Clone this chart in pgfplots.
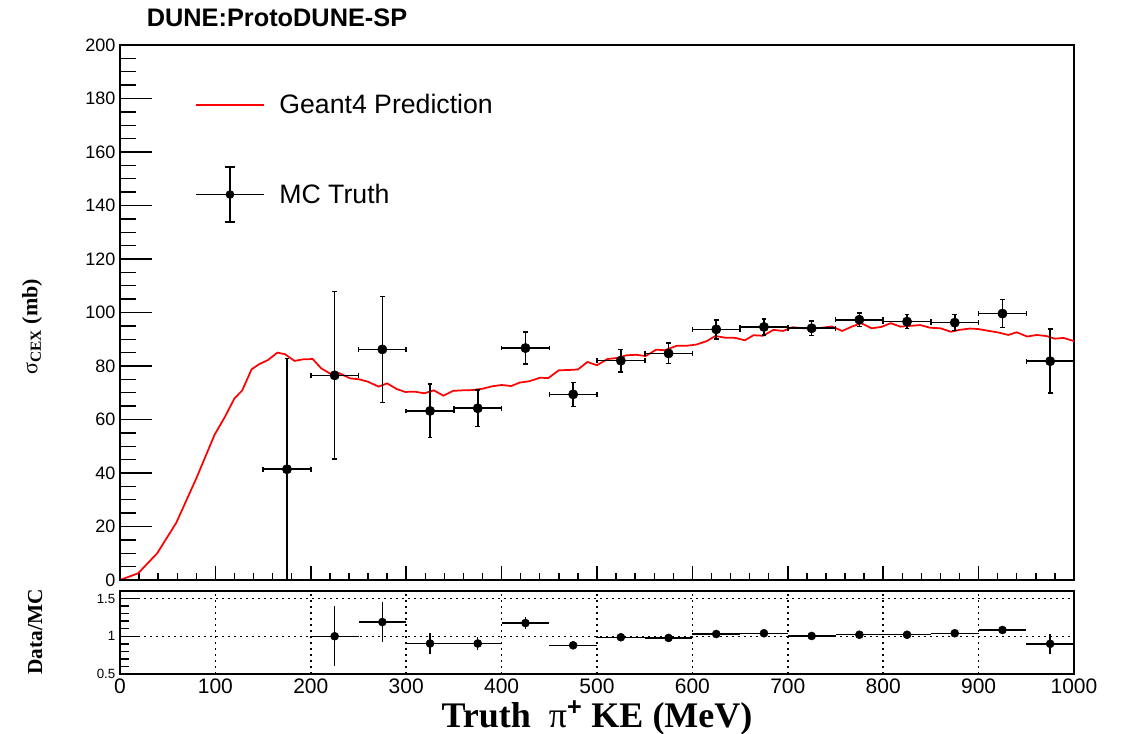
\documentclass[border=0pt]{standalone}
\usepackage{fontspec}
\setmainfont{Liberation Serif}
\newfontfamily\arial{Liberation Sans}
\usepackage{pgfplots}
\pgfplotsset{compat=1.18}
\pgfplotstableread{
x ey y
0 0 0
19 0 2.5
39 0 10
59 0 21.4
80 0 38
99 0 54.2
110 0 61
120 0 67.9
128 0 70.8
138 0 78.8
146 0 80.7
155 0 82.2
165 0 85
173 0 84.4
183 0 81.9
192 0 82.5
202 0 82.6
211 0 79.1
221 0 77
230 0 77.3
241 0 75.4
251 0 75
260 0 74.1
271 0 72.3
280 0 73.5
290 0 71.4
299 0 70.3
309 0 70.4
319 0 69.8
329 0 70.9
339 0 68.9
349 0 70.7
359 0 70.9
370 0 71
380 0 71.5
390 0 72.4
400 0 72.9
410 0 72.5
419 0 73.8
429 0 74.3
440 0 75.6
449 0 75.5
460 0 78.4
470 0 78.5
480 0 78.7
490 0 81.5
500 0 80.3
511 0 82.6
521 0 83
531 0 84
541 0 84.2
551 0 83.7
562 0 86.1
571 0 85.9
584 0 87.6
595 0 87.6
604 0 88
615 0 89.3
624 0 91.2
634 0 90.6
645 0 90.5
655 0 89.6
664 0 91.5
674 0 91.3
685 0 93.5
695 0 93.1
705 0 94.5
716 0 94.1
726 0 94
736 0 94.3
746 0 94.8
757 0 93.1
767 0 94.7
777 0 96
788 0 94.1
798 0 94.6
808 0 96
818 0 94.7
828 0 95
839 0 95.3
849 0 94.3
860 0 94.1
871 0 92.8
880 0 93.5
891 0 94
900 0 93.8
911 0 93.1
921 0 92.5
931 0 91.6
940 0 92.6
951 0 91
961 0 91.6
971 0 91.2
980 0 90.2
989 0 90.5
1000 0 89.3
}\geant
\pgfplotstableread{
x y ex ey
175 41.4 25 41.4
225 76.5 25 31.3
275 86.2 25 19.8
325 63.2 25 10.0
375 64.2 25 6.8
425 86.7 25 6.0
475 69.4 25 4.5
525 82.0 25 4.2
575 84.7 25 3.8
625 93.7 25 3.5
675 94.6 25 3.0
725 94.1 25 2.7
775 97.3 25 2.6
825 96.6 25 2.6
875 96.2 25 3.0
925 99.6 25 5.2
975 81.8 25 12.0
}\mctruth
\pgfplotstableread{
x y ex ey
225 1.000 25 0.40
275 1.188 25 0.27
325 0.904 25 0.14
375 0.904 25 0.09
425 1.175 25 0.075
475 0.880 25 0.03
525 0.987 25 0.02
575 0.978 25 0.02
625 1.030 25 0.02
675 1.040 25 0.02
725 1.004 25 0.02
775 1.020 25 0.02
825 1.020 25 0.02
875 1.040 25 0.02
925 1.083 25 0.03
975 0.900 25 0.13
}\ratio
\begin{document}
\begin{tikzpicture}[x=1pt,y=1pt]
\useasboundingbox (-90,-115.5) rectangle (751.5,435);
% ---------- top panel: frame, x ticks, data, legend
\begin{axis}[
  at={(0pt,0pt)}, anchor=south west,
  scale only axis, width=715.5pt, height=401.25pt,
  xmin=0, xmax=1000, ymin=0, ymax=200,
  axis line style={line width=1.5pt},
  xtick={0,100,...,1000}, minor x tick num=4, xticklabels=\empty,
  ytick=\empty,
  tick pos=left, tick align=inside,
  major tick length=10.5pt, minor tick length=5.25pt,
  every tick/.style={line width=1.1pt, black},
  title={DUNE:ProtoDUNE-SP},
  every axis title shift=0pt,
  title style={at={(axis description cs:0.1646,1.0505)}, anchor=center, yshift=0pt, font=\arial\bfseries\fontsize{19}{22}\selectfont},
  legend style={draw=none, fill=none, at={(axis description cs:0.0786,0.908)}, anchor=north west,
    font=\arial\fontsize{20}{24}\selectfont, row sep=38pt, column sep=11pt, inner sep=0pt,
    nodes={inner sep=0pt}},
  legend cell align=left,
]
\addplot[red, line width=1.3pt, mark=none,
  legend image code/.code={\draw[red, line width=1pt] (0pt,0pt) -- (51pt,0pt);}]
  table[x=x, y=y] {\geant};
\addlegendentry{Geant4 Prediction}
\addplot[black, only marks, mark=*, mark size=3.5pt,
  legend image code/.code={
    \draw[black, line width=1.1pt] (0pt,0pt) -- (51pt,0pt);
    \draw[black, line width=1.1pt] (25.5pt,-20.5pt) -- (25.5pt,20.5pt);
    \draw[black, line width=1.1pt] (21.75pt,-20.5pt) -- (29.25pt,-20.5pt);
    \draw[black, line width=1.1pt] (21.75pt,20.5pt) -- (29.25pt,20.5pt);
    \fill[black] (25.5pt,0pt) circle (3pt);},
  error bars/.cd, x dir=both, x explicit, y dir=both, y explicit,
  error bar style={line width=1.2pt, black},
  error mark options={rotate=90, mark size=1.8pt, line width=1.2pt, black}]
  table[x=x, y=y, x error=ex, y error=ey] {\mctruth};
\addlegendentry{MC Truth}
\end{axis}
% ---------- top panel: y ticks and labels
\begin{axis}[
  at={(0pt,0pt)}, anchor=south west,
  scale only axis, width=715.5pt, height=401.25pt,
  xmin=0, xmax=1000, ymin=0, ymax=200,
  axis line style={draw=none},
  xtick=\empty,
  ytick={0,20,...,200}, minor y tick num=3,
  tick pos=left, tick align=inside,
  major tick length=24pt, minor tick length=12pt,
  every tick/.style={line width=1.1pt, black},
  /pgf/number format/assume math mode=true,
  yticklabel style={font=\arial\fontsize{13.5}{16}\selectfont},
  ylabel={σ\textsubscript{\textbf{CEX}} \textbf{(mb)}},
  ylabel style={at={(axis description cs:-0.0922,0.473)}, anchor=center, rotate=0, font=\fontsize{16.5}{19}\selectfont},
]
\end{axis}
% ---------- ratio panel
\begin{axis}[
  at={(0pt,-8.25pt)}, anchor=north west,
  scale only axis, width=715.5pt, height=62.25pt,
  xmin=0, xmax=1000, ymin=0.5, ymax=1.6,
  axis line style={line width=1.5pt},
  xtick={0,100,...,1000}, ytick={0.5,1,1.5}, minor y tick num=4,
  tick pos=left, tick align=inside,
  major tick length=14pt, minor tick length=7pt,
  every tick/.style={line width=1.1pt, black},
  xtick style={draw=none},
  grid=major, grid style={black, line width=1.1pt, dash pattern=on 1.2pt off 3.3pt},
  /pgf/number format/assume math mode=true,
  /pgf/number format/1000 sep={},
  xticklabel style={font=\arial\fontsize{15.75}{18}\selectfont},
  yticklabel style={font=\arial\fontsize{10}{12}\selectfont},
  xlabel={\textbf{Truth\ \ {\mdseries π}\textsuperscript{\arial\bfseries +} KE (MeV)}},
  xlabel style={at={(axis description cs:0.5,-0.645)}, anchor=base, font=\fontsize{27}{30}\selectfont},
  ylabel={\textbf{Data/MC}},
  ylabel style={at={(axis description cs:-0.089,0.506)}, anchor=center, font=\fontsize{16}{19}\selectfont},
]
\addplot[black, only marks, mark=*, mark size=3pt,
  error bars/.cd, x dir=both, x explicit, y dir=both, y explicit,
  error bar style={line width=1.1pt, black}, error mark=none]
  table[x=x, y=y, x error=ex, y error=ey] {\ratio};
\end{axis}
\end{tikzpicture}
\end{document}
